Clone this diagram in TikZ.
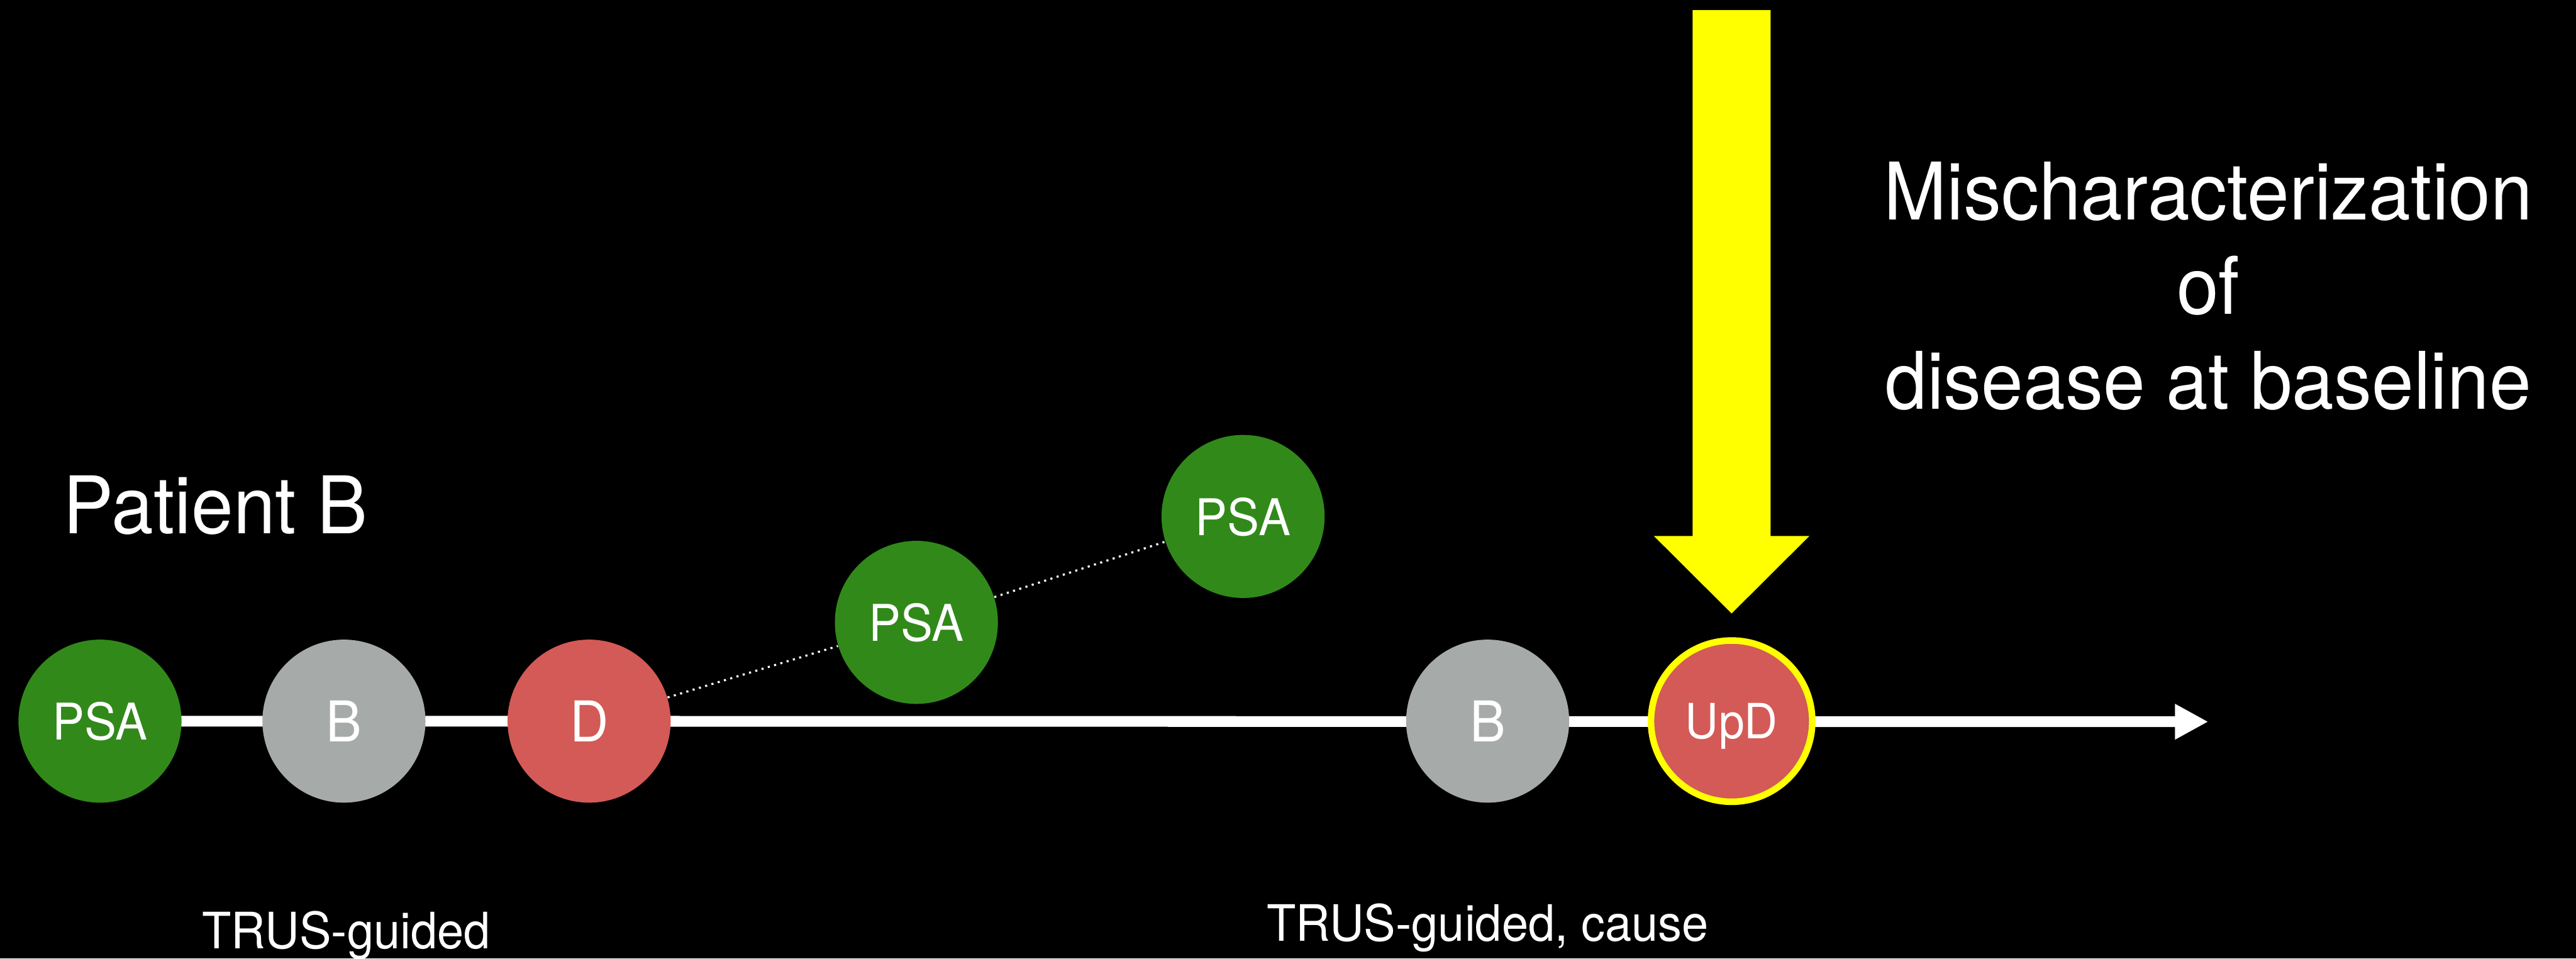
\documentclass[tikz,border=0pt]{standalone}
\usepackage{fontspec}
\setmainfont{TeX Gyre Heros}[FakeStretch=0.95]
\usetikzlibrary{arrows.meta,backgrounds,calc}
\definecolor{psagreen}{RGB}{49,137,26}
\definecolor{biopsygray}{RGB}{166,170,168}
\definecolor{dxred}{RGB}{211,90,86}
\definecolor{hiyellow}{RGB}{255,255,0}
\begin{document}
\begin{tikzpicture}[
  event/.style={circle, minimum size=2.74cm, inner sep=0pt, text=white, text depth=0pt},
  psanode/.style={event, fill=psagreen, font=\fontsize{24.2}{29}\selectfont},
  bxnode/.style={event, fill=biopsygray, font=\fontsize{26.9}{32}\selectfont},
  dxnode/.style={event, fill=dxred, font=\fontsize{26.9}{32}\selectfont},
  updnode/.style={event, minimum size=2.71cm, fill=dxred, draw=hiyellow, line width=0.11cm, font=\fontsize{23.2}{28}\selectfont},
  bigtext/.style={text=white, inner sep=0pt, font=\fontsize{38}{45.2}\selectfont},
  smalltext/.style={text=white, inner sep=0pt, font=\fontsize{24}{29}\selectfont},
  timeline/.style={draw=white, line width=0.18cm, -{Triangle[length=0.56cm,width=0.56cm]}},
  dotline/.style={draw=white, line width=0.035cm, dash pattern={on 0.035cm off 0.075cm}}
]
\useasboundingbox (0,0) rectangle (43.29,16.11);

% events
\node[psanode] (psa1) at (1.68,3.99) {PSA};
\node[bxnode]  (b1)   at (5.78,3.99) {B};
\node[dxnode]  (d)    at (9.90,3.99) {D};
\node[psanode] (psa2) at (15.40,5.65) {PSA};
\node[psanode] (psa3) at (20.89,7.43) {PSA};
\node[bxnode]  (b2)   at (25.00,3.99) {B};
\node[updnode] (upd)  at (29.10,3.99) {UpD};
\coordinate (tlend) at (37.11,3.98);

% texts
\node[bigtext, anchor=base west] (patient) at (1.06,7.14) {Patient B};
\node[bigtext, anchor=base, align=center] (mis) at (37.11,9.24) {Mischaracterization\\of\\disease at baseline};
\node[smalltext, anchor=base] (trus1) at (5.82,0.17) {TRUS-guided};
\node[smalltext, anchor=base] (trus2) at (25.00,0.29) {TRUS-guided, cause};

% yellow block arrow pointing at UpD
\fill[hiyellow] ($(upd.center)+(-0.655,11.95)$) -- ($(upd.center)+(0.655,11.95)$)
  -- ($(upd.center)+(0.655,3.11)$) -- ($(upd.center)+(1.305,3.11)$)
  -- ($(upd.center)+(0,1.81)$) -- ($(upd.center)+(-1.305,3.11)$)
  -- ($(upd.center)+(-0.655,3.11)$) -- cycle;

\begin{pgfonlayer}{background}
  \fill[black] (0,0) rectangle (43.29,16.11);
  \draw[timeline] (psa1.center) -- (tlend);
  \draw[dotline] (d) -- (psa2);
  \draw[dotline] (psa2) -- (psa3);
\end{pgfonlayer}
\end{tikzpicture}
\end{document}
